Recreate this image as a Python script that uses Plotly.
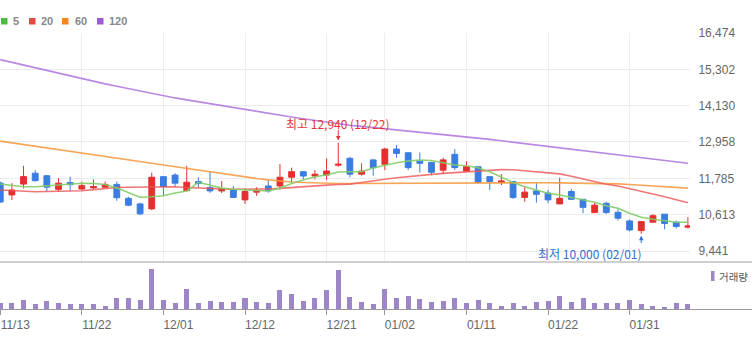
import plotly.graph_objects as go

# ---------------- data ----------------
dates = [
    "2017-11-13", "2017-11-14", "2017-11-15", "2017-11-16", "2017-11-17",
    "2017-11-20", "2017-11-21", "2017-11-22", "2017-11-23", "2017-11-24",
    "2017-11-27", "2017-11-28", "2017-11-29", "2017-11-30",
    "2017-12-01", "2017-12-04", "2017-12-05", "2017-12-06", "2017-12-07",
    "2017-12-08", "2017-12-11", "2017-12-12", "2017-12-13", "2017-12-14",
    "2017-12-15", "2017-12-18", "2017-12-19", "2017-12-20", "2017-12-21",
    "2017-12-22", "2017-12-26", "2017-12-27", "2017-12-28",
    "2018-01-02", "2018-01-03", "2018-01-04", "2018-01-05", "2018-01-08",
    "2018-01-09", "2018-01-10", "2018-01-11", "2018-01-12", "2018-01-15",
    "2018-01-16", "2018-01-17", "2018-01-18", "2018-01-19", "2018-01-22",
    "2018-01-23", "2018-01-24", "2018-01-25", "2018-01-26", "2018-01-29",
    "2018-01-30", "2018-01-31",
    "2018-02-01", "2018-02-02", "2018-02-05", "2018-02-06", "2018-02-07",
]

open_ = [11635, 11250, 11600, 11950, 11870, 11430, 11650, 11440, 11480, 11500,
         11590, 11140, 10960, 10800, 11840, 11890, 11390, 11680, 11490, 11380,
         11410, 11090, 11340, 11540, 11540, 11820, 12000, 11860, 11890, 12210,
         12430, 11920, 12380, 12240, 12730, 12610, 12340, 12300, 12050, 12560,
         12020, 12160, 11840, 11660, 11680, 11170, 11380, 11310, 10960, 11360,
         11110, 10680, 10980, 10690, 10410, 10100, 10370, 10630, 10370, 10210]
high = [11680, 11630, 12190, 12050, 11890, 11790, 11840, 11680, 11750, 11680,
        11680, 11190, 11000, 11970, 11840, 11950, 12190, 11820, 12000, 11700,
        11540, 11460, 11500, 11730, 12250, 12130, 12000, 12050, 12430, 12940,
        12480, 12270, 12400, 12770, 12860, 12620, 12620, 12320, 12450, 12730,
        12340, 12160, 11840, 11920, 11700, 11500, 11630, 11410, 11810, 11440,
        11120, 11000, 11030, 10790, 10460, 10390, 10630, 10630, 10420, 10530]
low = [10990, 11090, 11460, 11680, 11360, 11360, 11390, 11410, 11430, 11460,
       11060, 10890, 10600, 10760, 11220, 11520, 11360, 11490, 11320, 11310,
       11150, 10960, 11220, 11320, 11430, 11650, 11750, 11750, 11730, 12160,
       11820, 11870, 11870, 12050, 12450, 12050, 11970, 11890, 11920, 12050,
       12020, 11620, 11410, 11570, 11120, 11030, 11000, 10980, 10960, 11090,
       10660, 10680, 10640, 10420, 10070, 10000, 10370, 10140, 10170, 10170]
close = [11022, 11410, 11840, 11710, 11500, 11630, 11580, 11550, 11520, 11590,
         11160, 10920, 10640, 11820, 11520, 11630, 11660, 11620, 11380, 11430,
         11170, 11360, 11390, 11380, 11820, 12000, 11860, 11920, 12020, 12240,
         11920, 12020, 12130, 12730, 12590, 12130, 12270, 11980, 12380, 12130,
         12160, 11660, 11680, 11700, 11170, 11340, 11270, 11090, 11140, 11110,
         10850, 10920, 10680, 10500, 10120, 10390, 10580, 10330, 10230, 10250]

volume = [63000, 57000, 90000, 47000, 80000, 57000, 47000, 47000, 47000, 33000,
          113000, 113000, 90000, 400000, 90000, 57000, 200000, 57000, 80000, 67000,
          67000, 113000, 67000, 57000, 190000, 147000, 80000, 113000, 190000, 390000,
          123000, 67000, 47000, 200000, 113000, 133000, 100000, 67000, 80000, 113000,
          57000, 90000, 57000, 33000, 57000, 33000, 67000, 80000, 133000, 67000,
          113000, 57000, 57000, 57000, 90000, 47000, 33000, 23000, 57000, 47000]

ma5 = [11603, 11554, 11516, 11516, 11538, 11561, 11587, 11625, 11619, 11587,
       11474, 11312, 11174, 11193, 11225, 11312, 11377, 11658, 11570, 11474,
       11432, 11409, 11377, 11377, 11464, 11619, 11732, 11838, 11893, 11990,
       12000, 12000, 12119, 12216, 12290, 12345, 12377, 12361, 12296, 12216,
       12193, 12129, 12000, 11838, 11651, 11516, 11409, 11303, 11248, 11174,
       11087, 11012, 10903, 10819, 10658, 10528, 10464, 10409, 10367, 10367]
ma20 = [11409, 11390, 11370, 11354, 11362, 11370, 11379, 11387, 11420, 11455,
        11490, 11500, 11508, 11516, 11516, 11516, 11490, 11470, 11458, 11446,
        11435, 11433, 11435, 11440, 11460, 11490, 11515, 11540, 11565, 11585,
        11600, 11650, 11710, 11754, 11805, 11845, 11880, 11916, 11945, 11970,
        11995, 12010, 12040, 12065, 12060, 12030, 11995, 11960, 11930, 11850,
        11765, 11680, 11595, 11540, 11445, 11360, 11280, 11190, 11100, 11000]
ma60 = [12985, 12932, 12879, 12825, 12772, 12719, 12665, 12612, 12556, 12500,
        12443, 12387, 12330, 12274, 12217, 12161, 12103, 12045, 11987, 11929,
        11871, 11826, 11780, 11735, 11690, 11668, 11650, 11636, 11625, 11619,
        11620, 11622, 11624, 11627, 11630, 11633, 11636, 11640, 11643, 11647,
        11651, 11655, 11658, 11660, 11658, 11654, 11650, 11645, 11640, 11635,
        11630, 11625, 11620, 11605, 11585, 11565, 11545, 11525, 11500, 11470]
ma120 = [15616, 15527, 15437, 15348, 15258, 15169, 15079, 14990, 14912, 14833,
         14755, 14677, 14598, 14520, 14442, 14380, 14316, 14252, 14188, 14124,
         14060, 13997, 13936, 13879, 13822, 13765, 13708, 13652, 13595, 13538,
         13500, 13461, 13423, 13384, 13350, 13315, 13280, 13245, 13210, 13175,
         13133, 13088, 13043, 12997, 12952, 12906, 12861, 12816, 12770, 12725,
         12679, 12634, 12588, 12543, 12498, 12452, 12407, 12362, 12316, 12271]

price_ticks = [9441, 10613, 11785, 12958, 14130, 15302, 16474]
tick_dates = ["2017-11-13", "2017-11-22", "2017-12-01", "2017-12-12", "2017-12-21",
              "2018-01-02", "2018-01-11", "2018-01-22", "2018-01-31"]
tick_labels = ["11/13", "11/22", "12/01", "12/12", "12/21", "01/02", "01/11", "01/22", "01/31"]

ma_names = ["5", "20", "60", "120"]
high_label = "최고 12,940 (12/22)"
low_label = "최저 10,000 (02/01)"
high_date, high_val = "2017-12-22", 12940
low_date, low_val = "2018-02-01", 10000
volume_label = "거래량"

# ---------------- styling ----------------
W, H = 752, 337
RED = "#e3302f"
BLUE = "#3a7de0"
VOL = "#9c86c8"
ma_line_colors = ["rgba(130,205,105,0.9)", "rgba(238,85,85,0.8)",
                  "rgba(246,150,60,0.85)", "rgba(172,115,222,0.85)"]
ma_legend_colors = ["#4cbb3f", "#ee4444", "#f5861f", "#9d5bd2"]


def px_x(x):
    return x / W


def px_y(y):
    return 1 - y / H


fig = go.Figure()

for vals, col in zip([ma120, ma60, ma20, ma5], ma_line_colors[::-1]):
    fig.add_trace(go.Scatter(x=dates, y=vals, mode="lines",
                             line=dict(color=col, width=1.6),
                             xaxis="x", yaxis="y", hoverinfo="skip"))

fig.add_trace(go.Candlestick(
    x=dates, open=open_, high=high, low=low, close=close,
    increasing=dict(line=dict(color=RED, width=1), fillcolor=RED),
    decreasing=dict(line=dict(color=BLUE, width=1), fillcolor=BLUE),
    whiskerwidth=0, xaxis="x", yaxis="y"))

fig.add_trace(go.Bar(x=dates, y=volume, marker=dict(color=VOL, line=dict(width=0)),
                     width=0.43, xaxis="x2", yaxis="y2"))

xdom = [0, 690 / W]
xrange_ = [-0.02, 59.18]

fig.update_layout(
    width=W, height=H, margin=dict(l=0, r=0, t=0, b=0, autoexpand=False),
    paper_bgcolor="white", plot_bgcolor="white", showlegend=False,
    boxgap=0.5, boxgroupgap=0, bargap=0,
    font=dict(family="Liberation Sans, Arial, sans-serif", size=12, color="#666"),
    xaxis=dict(domain=xdom, type="category", range=xrange_, anchor="y",
               tickvals=tick_dates, showticklabels=False, ticks="",
               showgrid=True, gridcolor="#eeeeee", gridwidth=1, zeroline=False,
               showline=False, rangeslider=dict(visible=False), fixedrange=True,
               automargin=False),
    xaxis2=dict(domain=xdom, type="category", range=xrange_, anchor="y2", matches="x",
                tickvals=tick_dates, ticktext=tick_labels, ticks="outside", ticklen=5,
                tickcolor="#999", tickwidth=1, showgrid=False, zeroline=False,
                showline=False, ticklabelshift=15, automargin=False,
                tickfont=dict(size=12, color="#666"), fixedrange=True),
    yaxis=dict(domain=[1 - 261 / H, 1 - 33 / H], range=[9118.4, 16474], anchor="x",
               side="right", tickvals=price_ticks, tickformat=",",
               ticks="outside", ticklen=5, tickcolor="rgba(0,0,0,0)",
               showgrid=True, gridcolor="#ebebeb", gridwidth=1, zeroline=False,
               showline=False, tickfont=dict(size=12, color="#666"), fixedrange=True,
               automargin=False),
    yaxis2=dict(domain=[1 - 309 / H, 1 - 262 / H], range=[0, 470000], anchor="x2",
                showticklabels=False, showgrid=False, zeroline=False, ticks="",
                fixedrange=True, automargin=False),
)

shapes = [
    dict(type="line", xref="paper", yref="paper", x0=0, x1=1,
         y0=px_y(262), y1=px_y(262), line=dict(color="#a0a0a0", width=1)),
    dict(type="line", xref="paper", yref="paper", x0=0, x1=1,
         y0=px_y(309.5), y1=px_y(309.5), line=dict(color="#999999", width=1)),
    dict(type="rect", xref="paper", yref="paper", x0=px_x(711), x1=px_x(714.5),
         y0=px_y(281), y1=px_y(271), fillcolor=VOL, line=dict(width=0)),
]
annotations = []
leg_sq = [1, 29, 62, 97]
leg_tx = [11, 39, 73, 107]
for name, col, sx, tx in zip(ma_names, ma_legend_colors, leg_sq, leg_tx):
    shapes.append(dict(type="rect", xref="paper", yref="paper",
                       x0=px_x(sx), x1=px_x(sx + 6.5), y0=px_y(24.5), y1=px_y(18),
                       fillcolor=col, line=dict(width=0)))
    annotations.append(dict(xref="paper", yref="paper", x=px_x(tx), y=px_y(21.3),
                            text="<b>%s</b>" % name, showarrow=False,
                            xanchor="left", yanchor="middle",
                            font=dict(size=11, color="#888",
                                      family="Liberation Sans, Arial, sans-serif")))

annotations.append(dict(xref="paper", yref="paper", x=px_x(716.5), y=px_y(276),
                        text=volume_label, showarrow=False, xanchor="left",
                        yanchor="middle",
                        font=dict(size=10.5, color="#555", family="Noto Sans CJK KR")))

# high marker
annotations.append(dict(xref="x", yref="y", x=high_date, y=high_val, text=high_label,
                        showarrow=False, xanchor="center", yanchor="middle", yshift=19,
                        font=dict(size=12, color="#e8333a", family="Noto Sans CJK KR")))
annotations.append(dict(xref="x", yref="y", x=high_date, y=high_val, text="",
                        showarrow=True, ax=0, ay=-14, standoff=2, arrowhead=2,
                        arrowsize=0.9, arrowwidth=1, arrowcolor="#e8333a"))
# low marker
annotations.append(dict(xref="x", yref="y", x=low_date, y=low_val, text=low_label,
                        showarrow=False, xanchor="right", yanchor="middle",
                        xshift=3, yshift=-20,
                        font=dict(size=12, color="#2f6fd0", family="Noto Sans CJK KR")))
annotations.append(dict(xref="x", yref="y", x=low_date, y=low_val, text="",
                        showarrow=True, ax=0, ay=11, standoff=2, arrowhead=2,
                        arrowsize=0.9, arrowwidth=1, arrowcolor="#2f6fd0"))

fig.update_layout(shapes=shapes, annotations=annotations)

fig.write_html("out.html")
